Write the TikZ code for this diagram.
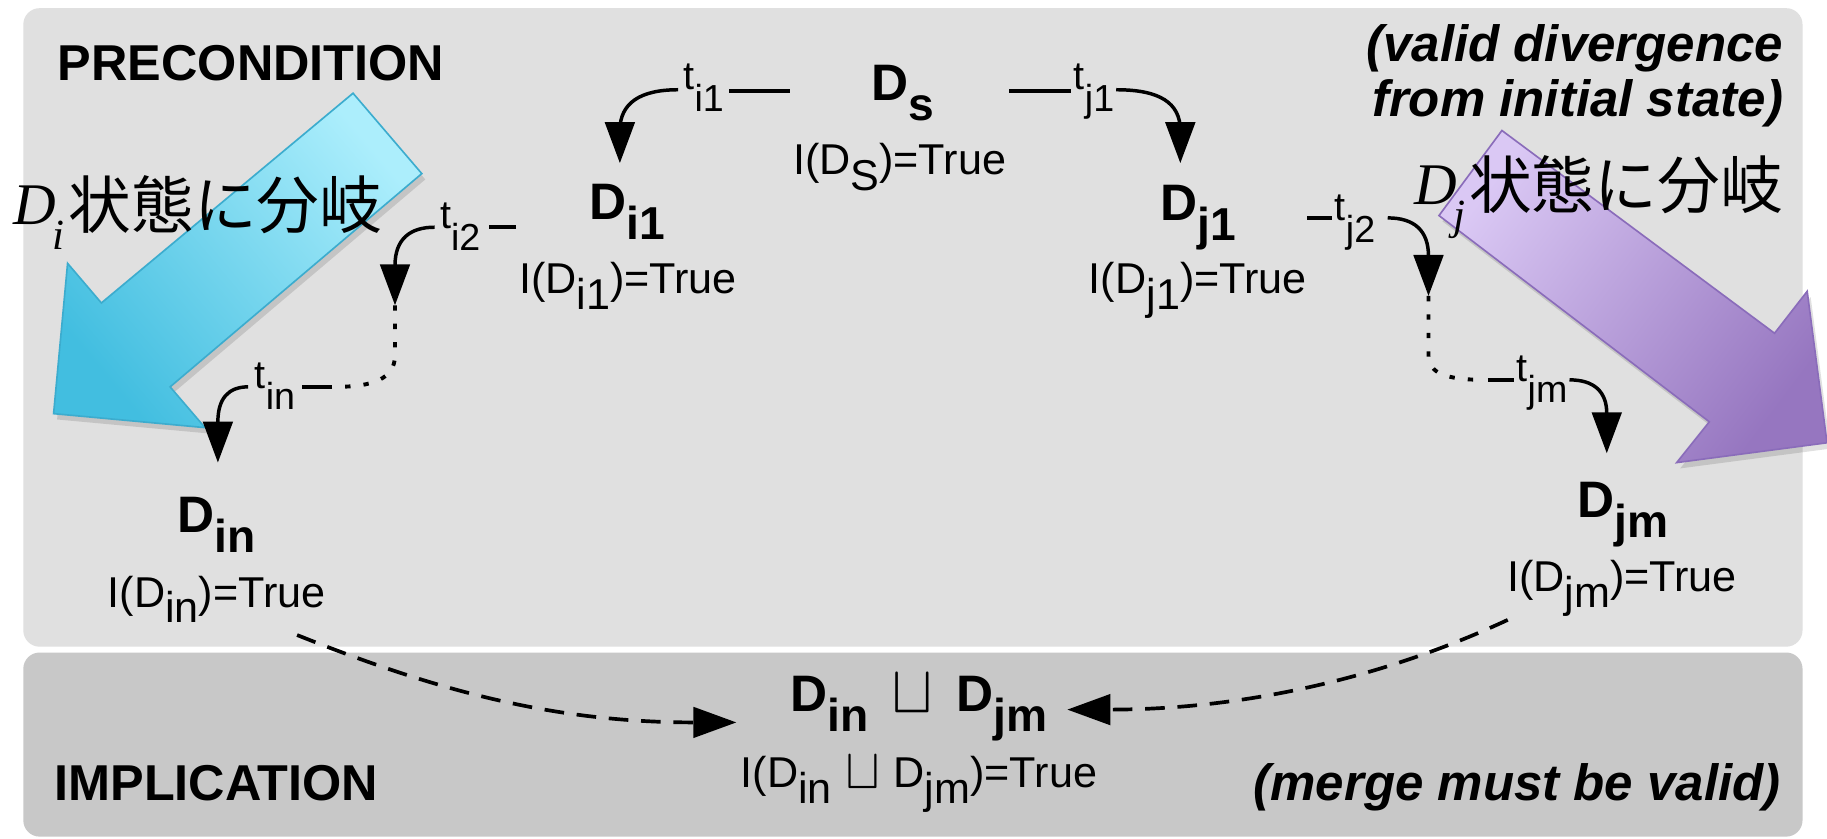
\documentclass[tikz,border=0pt]{standalone}
\usepackage{fontspec}
\setmainfont{Liberation Sans}
\newfontfamily\jpfont{Noto Sans CJK JP}
\newfontfamily\tmsfont{Liberation Serif}
\newfontfamily\lmmfont{latinmodern-math.otf}
\usetikzlibrary{arrows.meta}
\newcommand\fs[1]{\fontsize{#1}{#1}\selectfont}
% subscript: [lowering]{scale}{text}
\newcommand\sbs[3][0.39em]{\raisebox{-#1}{\scalebox{#2}{#3}}}
\newcommand\bsub[1]{\sbs{0.9}{#1}}
\newcommand\rsub[1]{\sbs[0.36em]{1}{#1}}
\newcommand\tsub[1]{\sbs[0.55em]{0.95}{#1}}
\newcommand\jdi[2]{\raisebox{1pt}{\tmsfont\itshape\fs{14.4pt}D\kern-0.06em\raisebox{-0.42em}{\fs{10.5pt}#1}}\hspace{#2}}
\definecolor{panelA}{RGB}{224,224,224}
\definecolor{panelB}{RGB}{200,200,200}
\definecolor{cyanL}{RGB}{172,238,252}
\definecolor{cyanD}{RGB}{66,190,224}
\definecolor{cyanB}{RGB}{60,172,206}
\definecolor{purL}{RGB}{218,200,244}
\definecolor{purD}{RGB}{150,118,192}
\definecolor{purB}{RGB}{138,108,186}
\tikzset{
  lbl/.style={inner sep=0pt, font=\fs{12.52pt}\bfseries},
  inv/.style={inner sep=0pt, font=\fs{10.53pt}},
  hdr/.style={inner sep=0pt, font=\fs{12.3pt}\bfseries},
  hdri/.style={inner sep=0pt, font=\fs{12.45pt}\bfseries\itshape},
  tlab/.style={inner sep=0pt, font=\fs{9.67pt}},
  jp/.style={inner sep=0pt, font=\fs{15.3pt}\jpfont},
  plainln/.style={line width=0.85pt},
  trans/.style={line width=0.85pt, -{Triangle[length=10pt,width=7.2pt]}},
  dotln/.style={line width=0.95pt, dash pattern=on 1.3pt off 3.2pt},
  mergeln/.style={line width=0.9pt, dash pattern=on 4.8pt off 3.1pt, -{Triangle[length=10.5pt,width=7.4pt]}},
  bigcyan/.style={draw=cyanB, line width=0.4pt, top color=cyanL, bottom color=cyanD, shading angle=-50},
  bigpur/.style={draw=purB, line width=0.4pt, top color=purL, bottom color=purD, shading angle=53},
  shadow/.style={fill=black, opacity=0.12},
}
\begin{document}
\begin{tikzpicture}[x=0.01cm,y=-0.01cm]
\useasboundingbox (0,0) rectangle (1568,720);
\fill[white] (0,0) rectangle (1568,720);
\fill[panelA, rounded corners=0.14cm] (20,7) rectangle (1547,555);
\fill[panelB, rounded corners=0.14cm] (20,560) rectangle (1547,718);

% big arrows
\begin{scope}[shift={(3,5)}]
\fill[shadow] (303,80) -- (87,260) -- (58,226) -- (46,355) -- (176,367) -- (146,332) -- (362,149) -- cycle;
\fill[shadow] (1289,112) -- (1523,286) -- (1551,250) -- (1568,380) -- (1439,397) -- (1467,362) -- (1235,185) -- cycle;
\end{scope}
\shadedraw[bigcyan] (303,80) -- (87,260) -- (58,226) -- (46,355) -- (176,367) -- (146,332) -- (362,149) -- cycle;
\shadedraw[bigpur] (1289,112) -- (1523,286) -- (1551,250) -- (1568,380) -- (1439,397) -- (1467,362) -- (1235,185) -- cycle;

% headings
\node[hdr, anchor=base west] (pre) at (49,69) {PRECONDITION};
\node[hdr, anchor=base west] (imp) at (46,687) {IMPLICATION};
\node[hdri, anchor=base east] (vd1) at (1531,53) {(valid divergence};
\node[hdri, anchor=base east] (vd2) at (1531,100) {from initial state)};
\node[hdri, anchor=base east] (mv) at (1529,687) {(merge must be valid)};

% states
\node[lbl, anchor=base west] (ds) at (747,86) {D\bsub{s}};
\node[inv, anchor=base] (ids) at (772,150) {I(D\rsub{S})=True};
\node[lbl, anchor=base west] (di1) at (505,188) {D\bsub{i1}};
\node[inv, anchor=base] (idi1) at (539,252) {I(D\rsub{i1})=True};
\node[lbl, anchor=base west] (dj1) at (995,189) {D\bsub{j1}};
\node[inv, anchor=base] (idj1) at (1028,252) {I(D\rsub{j1})=True};
\node[lbl, anchor=base west] (din) at (152,457) {D\bsub{in}};
\node[inv, anchor=base] (idin) at (186,521) {I(D\rsub{in})=True};
\node[lbl, anchor=base west] (djm) at (1353,444) {D\bsub{jm}};
\node[inv, anchor=base] (idjm) at (1392,508) {I(D\rsub{jm})=True};
\node[lbl, anchor=base west] (mrg) at (678,611) {D\bsub{in}\makebox[21.3pt][c]{\mdseries\lmmfont\fs{16pt}⊔}D\bsub{jm}};
\node[inv, anchor=base west] (imrg) at (635,676) {I(D\rsub{in}\makebox[15.1pt][c]{\lmmfont\fs{13.5pt}⊔}D\rsub{jm})=True};

% t_i1
\node[tlab, anchor=base west] (ti1) at (586,77) {t\tsub{i1}};
\coordinate (ti1a) at (678,78); \coordinate (ti1b) at (626,78);
\coordinate (ti1c) at (582,77); \coordinate (ti1d) at (532,140);
\draw[plainln] (ti1a) -- (ti1b);
\draw[trans] (ti1c) .. controls (550,77) and (532,88) .. (532,112) -- (ti1d);
% t_j1
\node[tlab, anchor=base west] (tj1) at (921,77) {t\tsub{j1}};
\coordinate (tj1a) at (866,78); \coordinate (tj1b) at (919,78);
\coordinate (tj1c) at (958,77); \coordinate (tj1d) at (1013,140);
\draw[plainln] (tj1a) -- (tj1b);
\draw[trans] (tj1c) .. controls (995,77) and (1013,88) .. (1013,112) -- (tj1d);
% t_i2
\node[tlab, anchor=base west] (ti2) at (377,196) {t\tsub{i2}};
\coordinate (ti2a) at (443,195); \coordinate (ti2b) at (420,195);
\coordinate (ti2c) at (373,195); \coordinate (ti2d) at (339,262);
\draw[plainln] (ti2a) -- (ti2b);
\draw[trans] (ti2c) .. controls (352,195) and (339,205) .. (339,228) -- (ti2d);
% dotted i
\coordinate (doti) at (288,332);
\draw[dotln] (ti2d) -- (339,305) .. controls (339,325) and (320,332) .. (doti);
% t_in
\node[tlab, anchor=base west] (tin) at (218,333) {t\tsub{in}};
\coordinate (tina) at (285,332); \coordinate (tinb) at (259,332);
\coordinate (tinc) at (213,332); \coordinate (tind) at (187,397);
\draw[plainln] (tina) -- (tinb);
\draw[trans] (tinc) .. controls (196,332) and (187,342) .. (187,362) -- (tind);
% t_j2
\node[tlab, anchor=base west] (tj2) at (1145,189) {t\tsub{j2}};
\coordinate (tj2a) at (1122,187); \coordinate (tj2b) at (1143,187);
\coordinate (tj2c) at (1191,187); \coordinate (tj2d) at (1226,254);
\draw[plainln] (tj2a) -- (tj2b);
\draw[trans] (tj2c) .. controls (1214,187) and (1226,198) .. (1226,220) -- (tj2d);
% dotted j
\coordinate (dotj) at (1275,326);
\draw[dotln] (tj2d) -- (1226,305) .. controls (1226,320) and (1240,326) .. (dotj);
% t_jm
\node[tlab, anchor=base west] (tjm) at (1301,327) {t\tsub{jm}};
\coordinate (tjma) at (1277,326); \coordinate (tjmb) at (1299,326);
\coordinate (tjmc) at (1347,326); \coordinate (tjmd) at (1379,389);
\draw[plainln] (tjma) -- (tjmb);
\draw[trans] (tjmc) .. controls (1368,326) and (1379,336) .. (1379,355) -- (tjmd);

% merge arrows
\coordinate (mi) at (255,545); \coordinate (mit) at (632,620);
\coordinate (mj) at (1294,532); \coordinate (mjt) at (916,609);
\draw[mergeln] (mi) .. controls (380,595) and (480,620) .. (mit);
\draw[mergeln] (mj) .. controls (1180,585) and (1060,609) .. (mjt);

% japanese labels
\node[jp, anchor=base west] (jpi) at (11,196) {\jdi{i}{1pt}状態に分岐};
\node[jp, anchor=base west] (jpj) at (1213,179) {\jdi{j}{1pt}状態に分岐};
\end{tikzpicture}
\end{document}
